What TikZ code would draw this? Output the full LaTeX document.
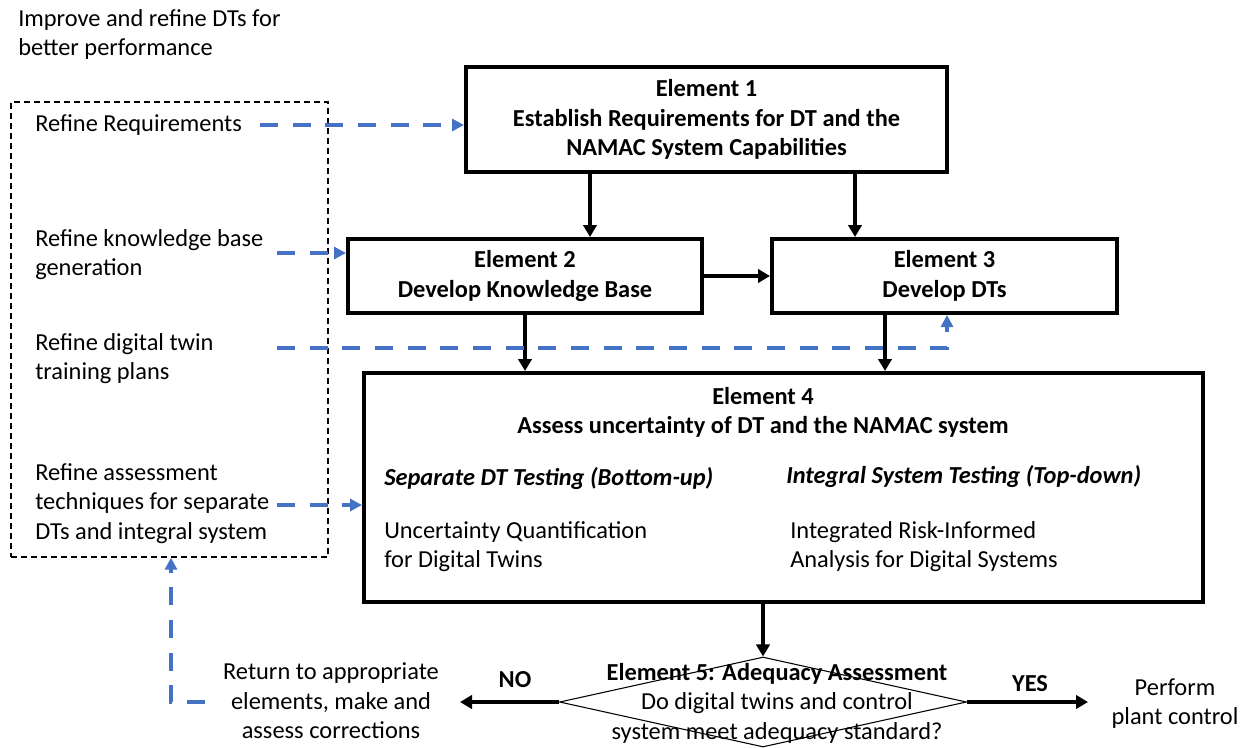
\documentclass[tikz,border=0pt]{standalone}
\usepackage{fontspec}
\setmainfont{Carlito}
\usetikzlibrary{shapes.geometric,arrows.meta}
\definecolor{dtblue}{HTML}{4472C4}
\newcommand{\fsz}{\fontsize{18.3}{22.2}\selectfont}
\begin{document}
\begin{tikzpicture}[x=0.75pt,y=-0.75pt,
  every node/.style={font=\fsz, inner sep=0pt},
  box/.style={draw, line width=3pt, minimum width=#1},
  txt/.style={anchor=west, align=left},
  arr/.style={line width=3pt, -{Triangle[length=9pt,width=10pt]}},
  bluearr/.style={draw=dtblue, line width=3.5pt, dash pattern=on 13.5pt off 11pt, -{Triangle[length=9pt,width=9pt]}},
  fbbox/.style={draw, line width=1.1pt, dash pattern=on 4.5pt off 3pt}
]
\useasboundingbox (0,0) rectangle (1244,747);

% headline
\node[txt] (head) at (18,34.5) {Improve and refine DTs for\\better performance};

% feedback box
\node[fbbox, minimum width=237.75pt, minimum height=341.25pt] (fb) at (169.5,329.5) {};
\node[txt] (rr) at (35,125) {Refine Requirements};
\node[txt] (kb) at (35,254.5) {Refine knowledge base\\generation};
\node[txt] (dt) at (35,358.5) {Refine digital twin\\training plans};
\node[txt] (as) at (35,503.5) {Refine assessment\\techniques for separate\\DTs and integral system};

% elements
\node[box=360.75pt, minimum height=78.75pt, align=center, font=\fsz\bfseries] (e1) at (706.5,119.5)
  {Element 1\\Establish Requirements for DT and the\\NAMAC System Capabilities};
\node[box=265.5pt, minimum height=55.5pt, align=center, font=\fsz\bfseries] (e2) at (525,276)
  {Element 2\\Develop Knowledge Base};
\node[box=258.75pt, minimum height=55.5pt, align=center, font=\fsz\bfseries] (e3) at (944.5,276)
  {Element 3\\Develop DTs};
\node[box=629.25pt, minimum height=171.75pt] (e4) at (783.5,487.5) {};
\node[align=center, font=\fsz\bfseries] (e4t) at (763,412.5)
  {Element 4\\Assess uncertainty of DT and the NAMAC system};
\node[txt, font=\fsz\bfseries\itshape] (sep) at (384,479) {Separate DT Testing (Bottom-up)};
\node[txt, font=\fsz\bfseries\itshape] (int) at (786,477) {Integral System Testing (Top-down)};
\node[txt] (uq) at (384,546.5) {Uncertainty Quantification\\for Digital Twins};
\node[txt] (ri) at (790,546.5) {Integrated Risk-Informed\\Analysis for Digital Systems};

% decision
\node[draw, diamond, line width=0.8pt, minimum width=305.25pt, minimum height=67.5pt, inner sep=0pt] (d) at (763,702) {};
\node[align=center] (dt5) at (777,703) {\textbf{Element 5: Adequacy Assessment}\\Do digital twins and control\\system meet adequacy standard?};

\node[align=center] (ret) at (331,701) {Return to appropriate\\elements, make and\\assess corrections};
\node[align=center] (perf) at (1175,703.5) {Perform\\plant control};
\node[font=\fsz\bfseries] (no) at (515,680) {NO};
\node[font=\fsz\bfseries] (yes) at (1030,684) {YES};

% helper coordinates
\coordinate (a1) at (590,0);
\coordinate (a2) at (855,0);
\coordinate (a3) at (525,0);
\coordinate (a4) at (885,0);
\coordinate (noend) at (460,702);
\coordinate (yesend) at (1088,702);
\coordinate (s1) at (260,125);
\coordinate (s2) at (277,253);
\coordinate (s3) at (277,348);
\coordinate (c3) at (947,348);
\coordinate (s4) at (277,505);
\coordinate (r0) at (205,702);
\coordinate (r1) at (171,702);

% black arrows
\draw[arr] (e1.south -| a1) -- (e2.north -| a1);
\draw[arr] (e1.south -| a2) -- (e3.north -| a2);
\draw[arr] (e2) -- (e3);
\draw[arr] (e2.south -| a3) -- (e4.north -| a3);
\draw[arr] (e3.south -| a4) -- (e4.north -| a4);
\draw[arr] (e4.south -| d.north) -- (d.north);
\draw[arr] (d.west) -- (noend);
\draw[arr] (d.east) -- (yesend);

% blue dashed arrows
\draw[bluearr] (s1) -- (s1 -| e1.west);
\draw[bluearr] (s2) -- (s2 -| e2.west);
\draw[bluearr] (s3) -- (c3) -- (c3 |- e3.south);
\draw[bluearr] (s4) -- (s4 -| e4.west);
\draw[bluearr] (r0) -- (r1) -- (r1 |- fb.south);
\end{tikzpicture}
\end{document}
